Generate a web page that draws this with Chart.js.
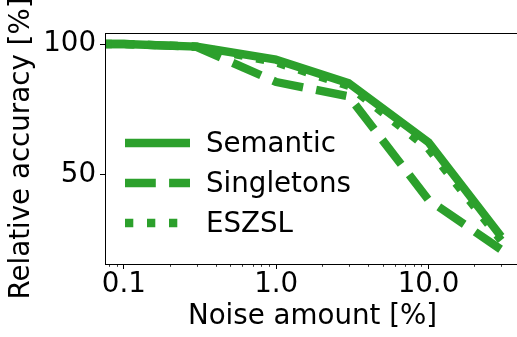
<!DOCTYPE html>
<html>
<head>
<meta charset="utf-8">
<script src="https://cdn.jsdelivr.net/npm/chart.js@4/dist/chart.umd.min.js"></script>
<style>
html,body{margin:0;padding:0;background:#fff;overflow:hidden;width:517px;height:337px;}
canvas{display:block;}
</style>
</head>
<body>
<canvas id="c" width="530" height="337"></canvas>
<script>
// ---- data (noise 0 shown as 0.01 on the log axis; it lies left of the visible range) ----
const noise = [0.01, 0.1, 0.3, 1, 3, 10, 30];
const semantic = [100, 100, 99, 94, 85, 62.5, 26.5];
const singletons = [100, 100, 98.9, 85.5, 80, 40.5, 21.5];
const eszsl = [100, 100, 99, 93, 84, 60, 25];
const seriesNames = ['Semantic', 'Singletons', 'ESZSL'];
const xMajorTicks = [0.1, 1, 10];
const xTickLabels = ['0.1', '1.0', '10.0'];
const xMinorTicks = [0.08, 0.09, 0.2, 0.3, 0.4, 0.5, 0.6, 0.7, 0.8, 0.9, 2, 3, 4, 5, 6, 7, 8, 9, 20, 30];
const yTicks = [50, 100];
const xTitle = 'Noise amount [%]';
const yTitle = 'Relative accuracy [%]';

const GREEN = '#2ca02c';
const FONT = 'DejaVu Sans';
const FS = 27.7;
const LW = 8.3;
const dashes = [[], [30.8, 13.3], [8.3, 13.7]];

const toPts = ys => noise.map((x, i) => ({x: x, y: ys[i]}));

const minorTicksPlugin = {
  id: 'minorTicks',
  afterDraw(chart) {
    const ctx = chart.ctx, xs = chart.scales.x, ca = chart.chartArea;
    ctx.save();
    ctx.strokeStyle = '#000';
    ctx.lineWidth = 0.8;
    xMinorTicks.forEach(v => {
      const px = Math.round(xs.getPixelForValue(v)) + 0.5;
      if (px < ca.left || px > ca.right) return;
      ctx.beginPath();
      ctx.moveTo(px, ca.bottom);
      ctx.lineTo(px, ca.bottom + 2.8);
      ctx.stroke();
    });
    ctx.lineWidth = 1;
    ctx.beginPath();
    ctx.moveTo(ca.left + 0.5, ca.bottom + 0.5);
    ctx.lineTo(ca.left + 0.5, ca.top + 0.5);
    ctx.lineTo(ca.right + 0.5, ca.top + 0.5);
    ctx.lineTo(ca.right + 0.5, ca.bottom + 0.5);
    ctx.lineTo(ca.left + 0.5, ca.bottom + 0.5);
    ctx.stroke();
    ctx.restore();
  }
};

const legendPlugin = {
  id: 'inLegend',
  afterDraw(chart) {
    const ctx = chart.ctx, ca = chart.chartArea;
    const x0 = ca.left + 20, len = 65, tx = ca.left + 101;
    const y0 = 143, gap = 40;
    ctx.save();
    chart.data.datasets.forEach((ds, i) => {
      const y = y0 + i * gap;
      ctx.strokeStyle = ds.borderColor;
      ctx.lineWidth = ds.borderWidth;
      ctx.lineCap = 'butt';
      ctx.setLineDash(ds.borderDash || []);
      ctx.beginPath();
      ctx.moveTo(x0, y);
      ctx.lineTo(x0 + len, y);
      ctx.stroke();
      ctx.setLineDash([]);
      ctx.fillStyle = '#000';
      ctx.font = FS + 'px "' + FONT + '"';
      ctx.textBaseline = 'alphabetic';
      ctx.textAlign = 'left';
      ctx.fillText(ds.label, tx, y + 9);
    });
    ctx.restore();
  }
};

new Chart(document.getElementById('c'), {
  type: 'line',
  data: {
    datasets: [semantic, singletons, eszsl].map((ys, i) => ({
      label: seriesNames[i],
      data: toPts(ys),
      borderColor: GREEN,
      backgroundColor: GREEN,
      borderWidth: LW,
      borderDash: dashes[i],
      borderCapStyle: 'butt',
      borderJoinStyle: 'round',
      pointRadius: 0,
      tension: 0,
      fill: false,
      clip: 0,
      order: 3 - i
    }))
  },
  options: {
    responsive: false,
    devicePixelRatio: 1,
    animation: false,
    events: [],
    layout: {padding: {top: 33, right: 10, left: 0, bottom: 0}},
    plugins: {legend: {display: false}, tooltip: {enabled: false}, title: {display: false}},
    scales: {
      x: {
        type: 'logarithmic',
        min: 0.0752,
        max: 39.9,
        afterBuildTicks: s => { s.ticks = xMajorTicks.map(v => ({value: v})); },
        afterFit: s => { s.height = 73; },
        ticks: {
          autoSkip: false, maxRotation: 0, color: '#000', padding: -1,
          font: {family: FONT, size: FS},
          callback: v => { const k = xMajorTicks.indexOf(v); return k >= 0 ? xTickLabels[k] : ''; }
        },
        grid: {drawOnChartArea: false, drawTicks: true, tickLength: 5, color: '#000', tickColor: '#000', tickWidth: 1},
        border: {display: true, color: '#000', width: 1},
        title: {display: true, text: xTitle, color: '#000', font: {family: FONT, size: FS}, padding: {top: 0, bottom: 4}}
      },
      y: {
        type: 'linear',
        min: 16,
        max: 104.2,
        afterBuildTicks: s => { s.ticks = yTicks.map(v => ({value: v})); },
        afterFit: s => { s.width = 105; },
        ticks: {color: '#000', padding: 4, font: {family: FONT, size: FS}},
        grid: {drawOnChartArea: false, drawTicks: true, tickLength: 5, color: '#000', tickColor: '#000', tickWidth: 1},
        border: {display: true, color: '#000', width: 1},
        title: {display: true, text: yTitle, color: '#000', font: {family: FONT, size: FS}, padding: {top: 5, bottom: 0}}
      }
    }
  },
  plugins: [minorTicksPlugin, legendPlugin]
});
</script>
</body>
</html>
